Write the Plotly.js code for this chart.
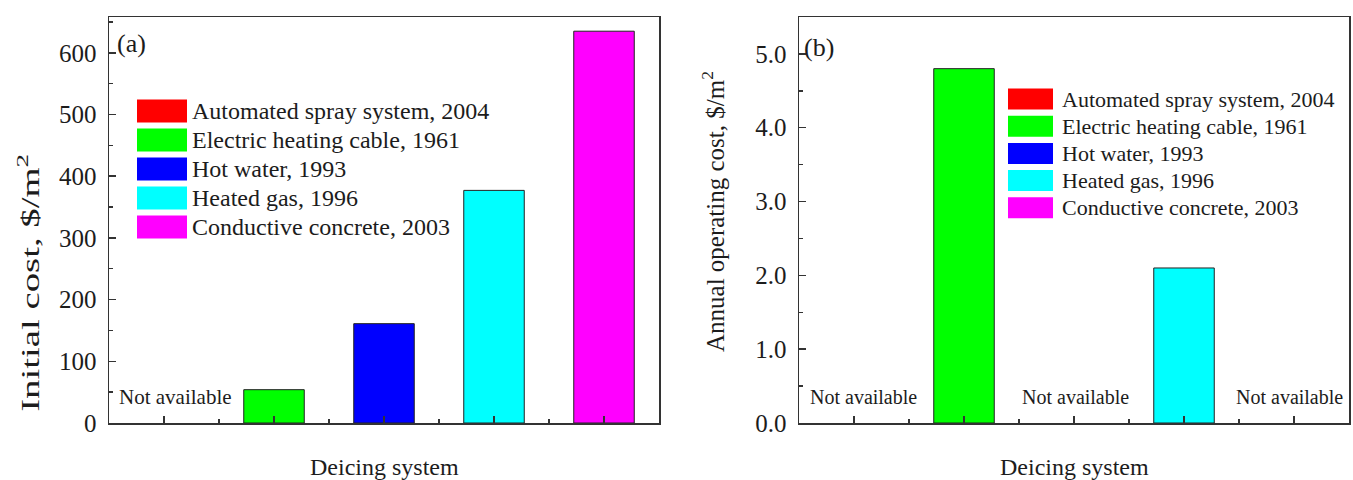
<!DOCTYPE html>
<html>
<head>
<meta charset="utf-8">
<script src="https://cdn.plot.ly/plotly-3.0.1.min.js"></script>
<style>
  html, body { margin: 0; padding: 0; background: #ffffff; }
  #chart { width: 1353px; height: 480px; }
</style>
</head>
<body>
<div id="chart"></div>
<script>
// Deicing systems compared in both panels
const systems = ['Automated spray system', 'Electric heating cable', 'Hot water', 'Heated gas', 'Conductive concrete'];
const years = [2004, 1961, 1993, 1996, 2003];
const colors = ['#ff0000', '#00ff00', '#0000ff', '#00ffff', '#ff00ff'];

// (a) initial cost, $/m^2  (null = not available)
const initialCost = [null, 54, 161, 377, 635];
// (b) annual operating cost, $/m^2  (null = not available)
const operatingCost = [null, 4.8, null, 2.1, null];

const naText = 'Not available';
const xTitle = 'Deicing system';
const yTitleA = 'Initial cost, $/m<sup>2</sup>';
const yTitleB = 'Annual operating cost, $/m<sup>2</sup>';

// ---- page geometry helpers (pixels -> paper fraction) ----
const W = 1353, H = 480;
const px = v => v / W;
const py = v => 1 - v / H;

const FONT = 'Liberation Serif, Times New Roman, serif';
const INK = '#1c1c1c';
const AX = '#333333';

const positions = systems.map((_, i) => i + 1);
const legendLabels = systems.map((s, i) => s + ', ' + years[i]);

function barTrace(values, xa, ya) {
  return {
    type: 'bar',
    x: positions,
    y: values,
    width: 0.55,
    xaxis: xa, yaxis: ya,
    marker: { color: colors, line: { color: '#222222', width: 1 } },
    hovertext: legendLabels,
    hoverinfo: 'text+y',
    showlegend: false
  };
}

function xAxis(domain, anchor) {
  return {
    domain: domain, anchor: anchor,
    range: [0.5, 5.5], tickmode: 'linear', tick0: 1, dtick: 1,
    ticks: 'inside', ticklen: 7, tickwidth: 1.5, tickcolor: AX,
    showticklabels: false,
    showline: true, linecolor: AX, linewidth: 1.5, mirror: true,
    showgrid: false, zeroline: false, fixedrange: true,
    minor: { tick0: 0.5, dtick: 0.5, ticks: 'inside', ticklen: 4, tickwidth: 1.5, tickcolor: AX, showgrid: false }
  };
}

function yAxis(domain, anchor, range, dtick, minorDtick, fmt) {
  return {
    domain: domain, anchor: anchor,
    range: range, tickmode: 'linear', tick0: 0, dtick: dtick, tickformat: fmt,
    ticks: 'inside', ticklen: 7, tickwidth: 1.5, tickcolor: AX,
    ticklabelstandoff: 6,
    tickfont: { family: FONT, size: 25, color: INK },
    showline: true, linecolor: AX, linewidth: 1.5, mirror: true,
    showgrid: false, zeroline: false, fixedrange: true,
    minor: { tick0: 0, dtick: minorDtick, ticks: 'inside', ticklen: 4, tickwidth: 1.5, tickcolor: AX, showgrid: false }
  };
}

const yDomain = [py(423), py(17)];

const shapes = [];
const annotations = [];

// legend blocks drawn as swatches + labels
function legendBlock(x0, x1, textX, rowY0, rowStep, swH, fontSize) {
  legendLabels.forEach((lab, i) => {
    const cy = rowY0 + i * rowStep;
    shapes.push({
      type: 'rect', xref: 'paper', yref: 'paper',
      x0: px(x0), x1: px(x1), y0: py(cy + swH / 2), y1: py(cy - swH / 2),
      fillcolor: colors[i], line: { width: 0 }
    });
    annotations.push({
      xref: 'paper', yref: 'paper', x: px(textX), y: py(cy),
      xanchor: 'left', yanchor: 'middle', showarrow: false,
      text: lab, font: { family: FONT, size: fontSize, color: INK }
    });
  });
}
legendBlock(137, 187, 190, 111, 29, 23, 24);
legendBlock(1008, 1053, 1060, 99, 27.2, 21, 22);

// "Not available" markers for missing values
function naLabels(values, xref, shifts, size) {
  values.forEach((v, i) => {
    if (v === null) {
      annotations.push({
        xref: xref, yref: 'paper', x: positions[i], y: py(397),
        xshift: shifts[i] || 0, xanchor: 'center', yanchor: 'middle', showarrow: false,
        text: naText, font: { family: FONT, size: size, color: INK }
      });
    }
  });
}
naLabels(initialCost, 'x', [11, 0, 0, 0, 0], 21);
naLabels(operatingCost, 'x2', [9, 0, 1, 0, -5], 20);

// panel tags
annotations.push({ xref: 'paper', yref: 'paper', x: px(115), y: py(43), xanchor: 'left', yanchor: 'middle',
  showarrow: false, text: '(a)', font: { family: FONT, size: 26, color: INK } });
annotations.push({ xref: 'paper', yref: 'paper', x: px(802), y: py(48), xanchor: 'left', yanchor: 'middle',
  showarrow: false, text: '(b)', font: { family: FONT, size: 26, color: INK } });

// axis titles
annotations.push({ xref: 'paper', yref: 'paper', x: px(384), y: py(467), xanchor: 'center', yanchor: 'middle',
  showarrow: false, text: xTitle, font: { family: FONT, size: 24, color: INK } });
annotations.push({ xref: 'paper', yref: 'paper', x: px(1074), y: py(467), xanchor: 'center', yanchor: 'middle',
  showarrow: false, text: xTitle, font: { family: FONT, size: 24, color: INK } });
const yTitleAIndex = annotations.length;
annotations.push({ xref: 'paper', yref: 'paper', x: px(28), y: py(283), xanchor: 'center', yanchor: 'middle',
  textangle: -90, showarrow: false, text: yTitleA, font: { family: FONT, size: 25, color: INK } });
annotations.push({ xref: 'paper', yref: 'paper', x: px(713), y: py(212), xanchor: 'center', yanchor: 'middle',
  textangle: -90, showarrow: false, text: yTitleB, font: { family: FONT, size: 25, color: INK } });

const data = [
  barTrace(initialCost, 'x', 'y'),
  barTrace(operatingCost, 'x2', 'y2')
];

const layout = {
  width: W, height: H,
  margin: { l: 0, r: 0, t: 0, b: 0, pad: 0 },
  paper_bgcolor: '#ffffff', plot_bgcolor: '#ffffff',
  font: { family: FONT, color: INK },
  showlegend: false,
  xaxis: xAxis([px(109), px(659)], 'y'),
  yaxis: yAxis(yDomain, 'x', [0, 658], 100, 50, 'd'),
  xaxis2: xAxis([px(799), px(1349)], 'y2'),
  yaxis2: yAxis(yDomain, 'x2', [0, 5.5], 1, 0.5, '.1f'),
  shapes: shapes,
  annotations: annotations
};

Plotly.newPlot('chart', data, layout, { displayModeBar: false, staticPlot: true }).then(gd => {
  // the left axis title is set with a widened letter run
  const el = gd.querySelector('.annotation[data-index="' + yTitleAIndex + '"] text.annotation-text');
  if (el) {
    el.setAttribute('textLength', '258');
    el.setAttribute('lengthAdjust', 'spacingAndGlyphs');
  }
});
</script>
</body>
</html>
